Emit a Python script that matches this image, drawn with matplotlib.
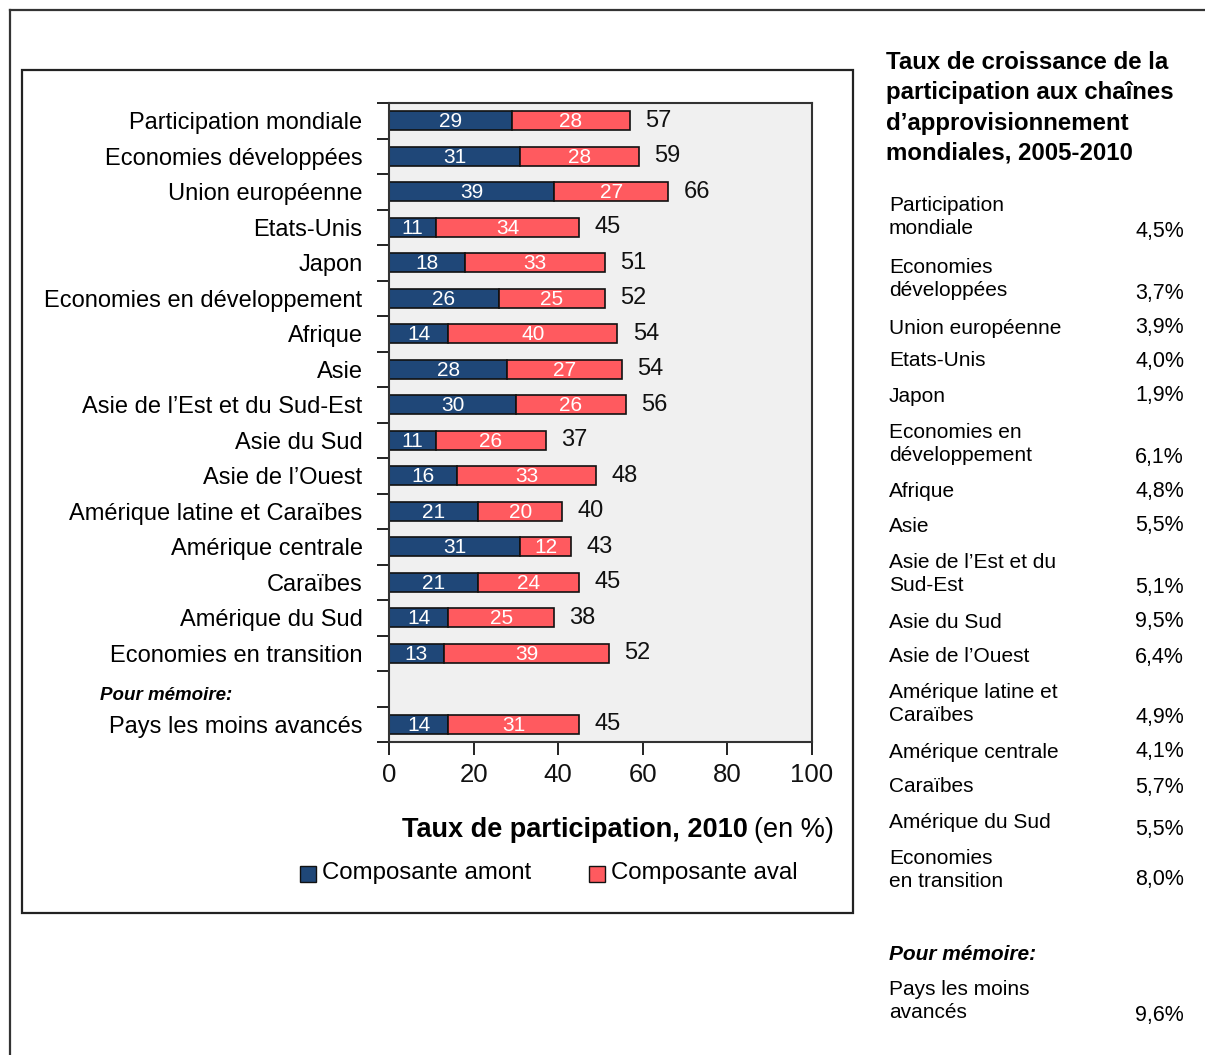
import matplotlib
matplotlib.use("Agg")
import matplotlib.pyplot as plt
from matplotlib.lines import Line2D
from matplotlib.patches import Rectangle

plt.rcParams['font.family'] = ['Liberation Sans Narrow', 'Liberation Sans', 'DejaVu Sans']

categories = ["Participation mondiale", "Economies développées", "Union européenne",
              "Etats-Unis", "Japon", "Economies en développement", "Afrique", "Asie",
              "Asie de l\u2019Est et du Sud-Est", "Asie du Sud", "Asie de l\u2019Ouest",
              "Amérique latine et Caraïbes", "Amérique centrale", "Caraïbes",
              "Amérique du Sud", "Economies en transition", "Pays les moins avancés"]
amont = [29, 31, 39, 11, 18, 26, 14, 28, 30, 11, 16, 21, 31, 21, 14, 13, 14]
aval = [28, 28, 27, 34, 33, 25, 40, 27, 26, 26, 33, 20, 12, 24, 25, 39, 31]
totals = [57, 59, 66, 45, 51, 52, 54, 54, 56, 37, 48, 40, 43, 45, 38, 52, 45]
xticks = [0, 20, 40, 60, 80, 100]

growth_labels = ["Participation\nmondiale", "Economies\ndéveloppées", "Union européenne",
                 "Etats-Unis", "Japon", "Economies en\ndéveloppement", "Afrique", "Asie",
                 "Asie de l\u2019Est et du\nSud-Est", "Asie du Sud", "Asie de l\u2019Ouest",
                 "Amérique latine et\nCaraïbes", "Amérique centrale", "Caraïbes",
                 "Amérique du Sud", "Economies\nen transition", "Pays les moins\navancés"]
growth = ["4,5%", "3,7%", "3,9%", "4,0%", "1,9%", "6,1%", "4,8%", "5,5%", "5,1%",
          "9,5%", "6,4%", "4,9%", "4,1%", "5,7%", "5,5%", "8,0%", "9,6%"]

BLUE = "#1f4778"
RED = "#ff5a5f"
W, H = 1205, 1055

fig = plt.figure(figsize=(W / 100, H / 100), dpi=100)

def fx(px):
    return px / W

def fy(py):
    return 1 - py / H

# frames
fig.add_artist(Line2D([fx(10), fx(10)], [fy(10), 0], color="#333333", lw=1.6))
fig.add_artist(Line2D([fx(10), 1], [fy(10), fy(10)], color="#333333", lw=1.6))
fig.add_artist(Rectangle((fx(22), fy(913)), fx(853) - fx(22), fy(70) - fy(913),
                         fill=False, ec="#222222", lw=1.6))

ax = fig.add_axes([fx(389), fy(742), fx(812) - fx(389), fy(103) - fy(742)])
ax.set_facecolor("#f0f0f0")

# positions: slot 16 left empty for "Pour mémoire"
pos = list(range(16)) + [17]
bh = 0.54
ax.barh(pos, amont, height=bh, color=BLUE, edgecolor="#111111", lw=1.2)
ax.barh(pos, aval, left=amont, height=bh, color=RED, edgecolor="#111111", lw=1.2)
for p, a, b, t in zip(pos, amont, aval, totals):
    ax.text(a / 2, p + 0.03, str(a), color="white", ha="center", va="center", fontsize=15)
    ax.text(a + b / 2, p + 0.03, str(b), color="white", ha="center", va="center", fontsize=15)
    ax.text(a + b + 3.6, p, str(t), color="#111111", ha="left", va="center", fontsize=17)

ax.set_xlim(0, 100)
ax.set_ylim(17.5, -0.5)
ax.set_xticks(xticks)
ax.set_xticklabels([str(v) for v in xticks], fontsize=18.5)
ax.tick_params(axis="x", length=9, width=1.3, pad=6, colors="#111111")
ax.set_yticks([i - 0.5 for i in range(19)])
ax.set_yticklabels([])
ax.tick_params(axis="y", which="major", length=9, width=1.3, color="#111111")
ax.set_yticks(pos, minor=True)
ax.set_yticklabels(categories, minor=True, fontsize=17)
ax.tick_params(axis="y", which="minor", length=0, pad=19)
for s in ax.spines.values():
    s.set_color("#333333")
    s.set_linewidth(1.5)

# Pour mémoire (left)
fig.text(fx(100), fy(696), "Pour mémoire:", fontsize=13.5, fontweight="bold",
         style="italic", ha="left", va="center")

# axis title
fig.text(fx(748), fy(830), "Taux de participation, 2010", fontsize=19.5, fontweight="bold",
         ha="right", va="center")
fig.text(fx(834), fy(830), "(en %)", fontsize=19.5, ha="right", va="center")

# legend
for xs, col, lab in [(300, BLUE, "Composante amont"), (589, RED, "Composante aval")]:
    fig.add_artist(Rectangle((fx(xs), fy(882)), fx(16), 16 / H, fc=col, ec="#111111", lw=1.0))
    fig.text(fx(xs + 22), fy(873), lab, fontsize=17.3, ha="left", va="center")

# right table
fig.text(fx(886), fy(108), "Taux de croissance de la\nparticipation aux chaînes\nd\u2019approvisionnement\nmondiales, 2005-2010",
         fontsize=17.3, fontweight="bold", ha="left", va="center", linespacing=1.4)
row_y = [217, 279, 328, 361, 396, 444, 492, 526, 574, 622, 657, 704, 752, 787, 822, 870]
val_y = [231, 293, 328, 361, 396, 458, 492, 526, 587, 622, 657, 717, 752, 787, 830, 879]
for lab, v, ry, vy in zip(growth_labels[:16], growth[:16], row_y, val_y):
    fig.text(fx(889), fy(ry), lab, fontsize=15, ha="left", va="center", linespacing=1.25)
    fig.text(fx(1184), fy(vy), v, fontsize=15.5, ha="right", va="center")
fig.text(fx(889), fy(954), "Pour mémoire:", fontsize=15, fontweight="bold", style="italic",
         ha="left", va="center")
fig.text(fx(889), fy(1001), growth_labels[16], fontsize=15, ha="left", va="center", linespacing=1.25)
fig.text(fx(1184), fy(1015), growth[16], fontsize=15.5, ha="right", va="center")

fig.savefig("out.png", dpi=100)
